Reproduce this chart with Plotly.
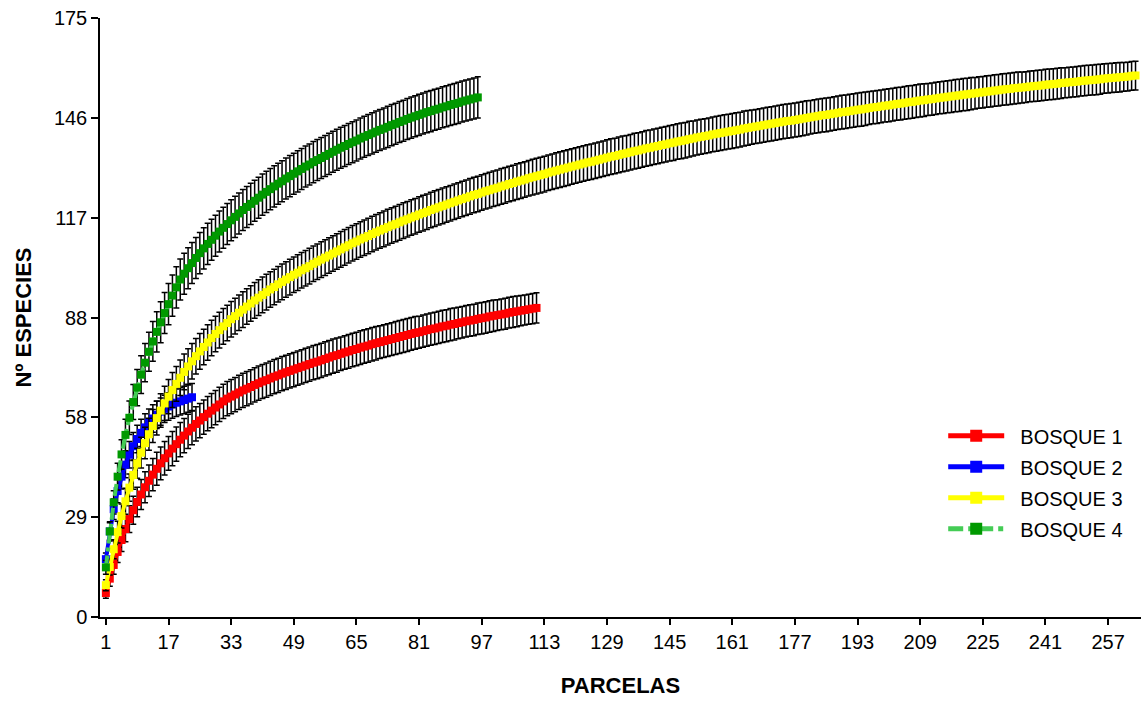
import plotly.graph_objects as go

# Species accumulation curves (mean species count +/- SD per number of plots)

x_tick_vals = [1, 17, 33, 49, 65, 81, 97, 113, 129, 145, 161, 177, 193, 209, 225, 241, 257]
y_tick_vals = [0, 29.1667, 58.3333, 87.5, 116.6667, 145.8333, 175]
y_tick_text = ["0", "29", "58", "88", "117", "146", "175"]

series_names = ["BOSQUE 1", "BOSQUE 2", "BOSQUE 3", "BOSQUE 4"]

bosque1 = [
    7.0, 11.2, 15.2, 19.0, 22.5, 25.7, 28.6, 31.2, 33.6, 35.8,
    37.9, 39.8, 41.6, 43.3, 44.9, 46.4, 47.8, 49.2, 50.5, 51.8,
    53.0, 54.2, 55.3, 56.4, 57.4, 58.4, 59.4, 60.3, 61.2, 62.1,
    63.0, 63.8, 64.4, 65.0, 65.6, 66.2, 66.7, 67.2, 67.8, 68.3,
    68.8, 69.2, 69.7, 70.2, 70.6, 71.1, 71.5, 71.9, 72.3, 72.7,
    73.1, 73.5, 73.9, 74.3, 74.6, 75.0, 75.4, 75.8, 76.2, 76.5,
    76.9, 77.3, 77.6, 78.0, 78.3, 78.7, 79.0, 79.3, 79.7, 80.0,
    80.3, 80.6, 80.9, 81.2, 81.5, 81.8, 82.1, 82.4, 82.7, 83.0,
    83.2, 83.5, 83.8, 84.1, 84.3, 84.6, 84.9, 85.1, 85.4, 85.6,
    85.9, 86.1, 86.4, 86.6, 86.8, 87.1, 87.3, 87.5, 87.8, 88.0,
    88.2, 88.4, 88.6, 88.9, 89.1, 89.3, 89.5, 89.7, 89.9, 90.1,
    90.3,
]
sd1 = [
    1.5, 2.2, 2.7, 3.1, 3.4, 3.7, 3.9, 4.1, 4.3, 4.4,
    4.5, 4.6, 4.7, 4.8, 4.8, 4.9, 4.9, 5.0, 5.0, 5.0,
    5.0, 5.0, 5.0, 5.0, 5.0, 5.0, 5.0, 5.0, 5.0, 5.0,
    5.0, 5.0, 5.0, 5.0, 5.0, 5.0, 5.0, 5.0, 5.0, 5.0,
    5.0, 5.0, 5.0, 5.0, 5.0, 5.0, 5.0, 5.0, 5.0, 5.0,
    5.0, 5.0, 5.0, 5.0, 5.0, 5.0, 5.0, 5.0, 5.0, 5.0,
    4.9, 4.9, 4.9, 4.9, 4.9, 4.9, 4.9, 4.9, 4.9, 4.9,
    4.8, 4.8, 4.8, 4.8, 4.8, 4.8, 4.8, 4.8, 4.8, 4.8,
    4.7, 4.7, 4.7, 4.7, 4.7, 4.7, 4.7, 4.7, 4.7, 4.7,
    4.6, 4.6, 4.6, 4.6, 4.6, 4.6, 4.6, 4.6, 4.6, 4.6,
    4.5, 4.5, 4.5, 4.5, 4.5, 4.5, 4.4, 4.4, 4.4, 4.4,
    4.4,
]

bosque2 = [
    16.9, 25.0, 31.5, 36.8, 41.0, 44.5, 47.4, 49.9, 52.0, 53.8,
    55.4, 56.8, 58.0, 59.1, 60.0, 60.8, 61.5, 62.1, 62.6, 63.0,
    63.4, 63.8, 64.2,
]
sd2 = [
    1.8, 2.5, 3.0, 3.4, 3.6, 3.8, 3.9, 4.0, 4.0, 4.0,
    4.0, 4.0, 4.0, 4.0, 4.0, 4.0, 4.0, 4.0, 4.0, 4.0,
    4.0, 4.0, 4.0,
]

bosque3 = [
    9.3, 14.6, 19.8, 24.8, 29.5, 33.8, 37.8, 41.5, 44.9, 48.0,
    50.8, 53.4, 55.8, 58.1, 60.3, 62.4, 64.4, 66.3, 68.1, 69.9,
    71.6, 73.2, 74.7, 76.2, 77.6, 78.9, 80.2, 81.5, 82.7, 83.8,
    84.9, 85.9, 87.0, 87.9, 88.9, 89.8, 90.7, 91.6, 92.5, 93.3,
    94.1, 94.9, 95.7, 96.4, 97.2, 97.9, 98.6, 99.3, 100.0, 100.6,
    101.3, 101.9, 102.5, 103.2, 103.8, 104.4, 105.0, 105.6, 106.2, 106.8,
    107.4, 108.0, 108.6, 109.2, 109.7, 110.3, 110.8, 111.3, 111.9, 112.4,
    112.9, 113.4, 113.9, 114.4, 114.8, 115.3, 115.8, 116.2, 116.7, 117.1,
    117.6, 118.0, 118.4, 118.9, 119.3, 119.7, 120.1, 120.5, 120.9, 121.3,
    121.7, 122.1, 122.5, 122.9, 123.3, 123.6, 124.0, 124.4, 124.7, 125.1,
    125.4, 125.8, 126.1, 126.5, 126.8, 127.2, 127.5, 127.8, 128.2, 128.5,
    128.8, 129.1, 129.4, 129.8, 130.1, 130.4, 130.7, 131.0, 131.3, 131.6,
    131.9, 132.2, 132.5, 132.8, 133.0, 133.3, 133.6, 133.9, 134.2, 134.5,
    134.7, 135.0, 135.3, 135.5, 135.8, 136.1, 136.3, 136.6, 136.9, 137.1,
    137.4, 137.6, 137.9, 138.1, 138.4, 138.6, 138.9, 139.1, 139.3, 139.6,
    139.8, 140.1, 140.3, 140.5, 140.7, 141.0, 141.2, 141.4, 141.6, 141.8,
    142.0, 142.2, 142.4, 142.7, 142.9, 143.1, 143.3, 143.5, 143.7, 143.9,
    144.1, 144.3, 144.5, 144.7, 144.9, 145.0, 145.2, 145.4, 145.6, 145.8,
    146.0, 146.2, 146.4, 146.6, 146.7, 146.9, 147.1, 147.3, 147.5, 147.6,
    147.8, 148.0, 148.2, 148.3, 148.5, 148.7, 148.9, 149.0, 149.2, 149.4,
    149.5, 149.7, 149.9, 150.0, 150.2, 150.4, 150.5, 150.7, 150.9, 151.0,
    151.2, 151.3, 151.5, 151.7, 151.8, 152.0, 152.1, 152.3, 152.4, 152.6,
    152.7, 152.9, 153.0, 153.2, 153.3, 153.5, 153.6, 153.8, 153.9, 154.1,
    154.2, 154.3, 154.5, 154.6, 154.7, 154.8, 155.0, 155.1, 155.2, 155.3,
    155.5, 155.6, 155.7, 155.8, 156.0, 156.1, 156.2, 156.3, 156.4, 156.6,
    156.7, 156.8, 156.9, 157.0, 157.1, 157.3, 157.4, 157.5, 157.6, 157.7,
    157.8, 157.9, 158.1, 158.2,
]
sd3 = [
    1.6, 2.3, 2.8, 3.2, 3.5, 3.8, 4.0, 4.2, 4.4, 4.5,
    4.6, 4.7, 4.8, 4.9, 4.9, 5.0, 5.0, 5.1, 5.1, 5.2,
    5.2, 5.2, 5.2, 5.2, 5.2, 5.2, 5.2, 5.2, 5.2, 5.2,
    5.2, 5.2, 5.2, 5.2, 5.2, 5.2, 5.2, 5.2, 5.2, 5.2,
    5.2, 5.2, 5.2, 5.2, 5.2, 5.2, 5.2, 5.2, 5.2, 5.2,
    5.2, 5.2, 5.2, 5.2, 5.2, 5.2, 5.2, 5.2, 5.2, 5.2,
    5.2, 5.2, 5.2, 5.2, 5.2, 5.2, 5.2, 5.2, 5.2, 5.2,
    5.2, 5.2, 5.2, 5.2, 5.2, 5.2, 5.2, 5.2, 5.2, 5.2,
    5.2, 5.2, 5.2, 5.2, 5.2, 5.2, 5.2, 5.2, 5.2, 5.2,
    5.2, 5.2, 5.2, 5.2, 5.2, 5.2, 5.2, 5.2, 5.2, 5.2,
    5.2, 5.2, 5.2, 5.2, 5.2, 5.2, 5.2, 5.2, 5.2, 5.2,
    5.2, 5.2, 5.2, 5.2, 5.2, 5.2, 5.2, 5.2, 5.2, 5.2,
    5.2, 5.2, 5.2, 5.2, 5.2, 5.2, 5.2, 5.2, 5.2, 5.2,
    5.2, 5.2, 5.2, 5.2, 5.2, 5.2, 5.2, 5.2, 5.2, 5.2,
    5.2, 5.2, 5.2, 5.2, 5.2, 5.2, 5.2, 5.2, 5.2, 5.2,
    5.1, 5.1, 5.1, 5.1, 5.1, 5.1, 5.1, 5.1, 5.1, 5.1,
    5.1, 5.1, 5.1, 5.1, 5.1, 5.0, 5.0, 5.0, 5.0, 5.0,
    5.0, 5.0, 5.0, 5.0, 5.0, 5.0, 5.0, 5.0, 5.0, 5.0,
    4.9, 4.9, 4.9, 4.9, 4.9, 4.9, 4.9, 4.9, 4.9, 4.9,
    4.9, 4.9, 4.9, 4.9, 4.9, 4.8, 4.8, 4.8, 4.8, 4.8,
    4.8, 4.8, 4.8, 4.8, 4.8, 4.8, 4.8, 4.8, 4.8, 4.8,
    4.7, 4.7, 4.7, 4.7, 4.7, 4.7, 4.7, 4.7, 4.7, 4.7,
    4.7, 4.7, 4.6, 4.6, 4.6, 4.6, 4.6, 4.6, 4.6, 4.6,
    4.6, 4.6, 4.6, 4.6, 4.5, 4.5, 4.5, 4.5, 4.5, 4.5,
    4.5, 4.5, 4.5, 4.5, 4.5, 4.4, 4.4, 4.4, 4.4, 4.4,
    4.4, 4.4, 4.4, 4.4, 4.4, 4.3, 4.3, 4.3, 4.3, 4.3,
    4.2, 4.2, 4.2, 4.2,
]

bosque4 = [
    14.5, 25.0, 33.5, 41.0, 47.5, 53.2, 58.2, 62.8, 67.0, 70.8,
    74.3, 77.5, 80.5, 83.3, 86.1, 88.8, 91.4, 93.9, 96.3, 98.6,
    100.3, 101.9, 103.4, 104.9, 106.3, 107.7, 109.0, 110.2, 111.4, 112.6,
    113.7, 114.8, 115.9, 116.9, 117.9, 118.9, 119.8, 120.7, 121.6, 122.5,
    123.4, 124.2, 125.0, 125.8, 126.6, 127.3, 128.1, 128.8, 129.5, 130.2,
    130.9, 131.6, 132.2, 132.9, 133.5, 134.1, 134.7, 135.3, 135.9, 136.5,
    137.1, 137.6, 138.2, 138.7, 139.2, 139.8, 140.3, 140.8, 141.3, 141.8,
    142.3, 142.7, 143.2, 143.7, 144.1, 144.6, 145.0, 145.5, 145.9, 146.3,
    146.7, 147.1, 147.5, 147.8, 148.2, 148.5, 148.9, 149.2, 149.6, 149.9,
    150.2, 150.6, 150.9, 151.2, 151.5, 151.8,
]
sd4 = [
    2.0, 2.8, 3.4, 3.9, 4.3, 4.6, 4.9, 5.1, 5.3, 5.5,
    5.6, 5.7, 5.8, 5.9, 6.0, 6.0, 6.0, 6.0, 6.0, 6.0,
    6.0, 6.0, 6.0, 6.0, 6.0, 6.0, 6.0, 6.0, 6.0, 6.0,
    6.0, 6.0, 6.0, 6.0, 6.0, 6.0, 6.0, 6.0, 6.0, 6.0,
    6.0, 6.0, 6.0, 6.0, 6.0, 6.0, 6.0, 6.0, 6.0, 6.0,
    6.0, 6.0, 6.0, 6.0, 6.0, 6.0, 6.0, 6.0, 6.0, 6.0,
    6.0, 6.0, 6.0, 6.0, 6.0, 6.0, 6.0, 6.0, 6.0, 6.0,
    6.0, 6.0, 6.0, 6.0, 6.0, 6.0, 6.0, 6.0, 6.0, 6.0,
    6.0, 6.0, 6.0, 6.0, 6.0, 6.0, 6.0, 6.0, 6.0, 6.0,
    6.0, 6.0, 6.0, 6.0, 6.0, 6.0,
]

FONT = "Liberation Sans, Arial, Helvetica, sans-serif"
PAD = "\u00a0\u00a0"  # small gap between legend symbol and label

styles = [
    dict(line_color="#FF0000", marker_color="#FF0000", dash="solid"),
    dict(line_color="#0000FF", marker_color="#0000FF", dash="solid"),
    dict(line_color="#FFFF00", marker_color="#FFFF00", dash="solid"),
    dict(line_color="#44CC55", marker_color="#009900", dash="dashdot"),
]

fig = go.Figure()
for name, ys, sds, st in zip(series_names,
                             [bosque1, bosque2, bosque3, bosque4],
                             [sd1, sd2, sd3, sd4], styles):
    fig.add_trace(go.Scatter(
        x=list(range(1, len(ys) + 1)),
        y=ys,
        name=PAD + name,
        legendgroup=name,
        mode="lines+markers",
        line=dict(color=st["line_color"], width=4, dash=st["dash"]),
        marker=dict(symbol="square", size=8, color=st["marker_color"],
                    line=dict(width=0)),
        error_y=dict(type="data", array=sds, visible=True,
                     color="black", thickness=1.5, width=3),
    ))

fig.update_layout(
    width=1141, height=701,
    margin=dict(l=100, r=0, t=18, b=84),
    paper_bgcolor="white", plot_bgcolor="white",
    font=dict(family=FONT, size=20, color="black"),
    showlegend=True,
    legend=dict(x=0.81, y=0.335, xanchor="left", yanchor="top",
                bgcolor="rgba(0,0,0,0)", font=dict(size=20, family=FONT),
                itemwidth=56, itemsizing="constant", tracegroupgap=2),
)

fig.update_xaxes(
    range=[-0.5, 265.4], tickmode="array", tickvals=x_tick_vals,
    ticks="outside", ticklen=6, tickwidth=1.5, tickcolor="black",
    showline=True, linecolor="black", linewidth=1.5,
    showgrid=False, zeroline=False,
    tickfont=dict(size=20, family=FONT),
    title=dict(text="<b>PARCELAS</b>", font=dict(size=22, family=FONT),
               standoff=26),
)
fig.update_yaxes(
    range=[0, 175], tickmode="array", tickvals=y_tick_vals, ticktext=y_tick_text,
    ticks="outside", ticklen=7, tickwidth=1.5, tickcolor="black",
    showline=True, linecolor="black", linewidth=1.5,
    showgrid=False, zeroline=False,
    tickfont=dict(size=20, family=FONT),
    title=dict(text="<b>Nº ESPECIES</b>", font=dict(size=22, family=FONT),
               standoff=16),
)

fig.write_html("out.html")
